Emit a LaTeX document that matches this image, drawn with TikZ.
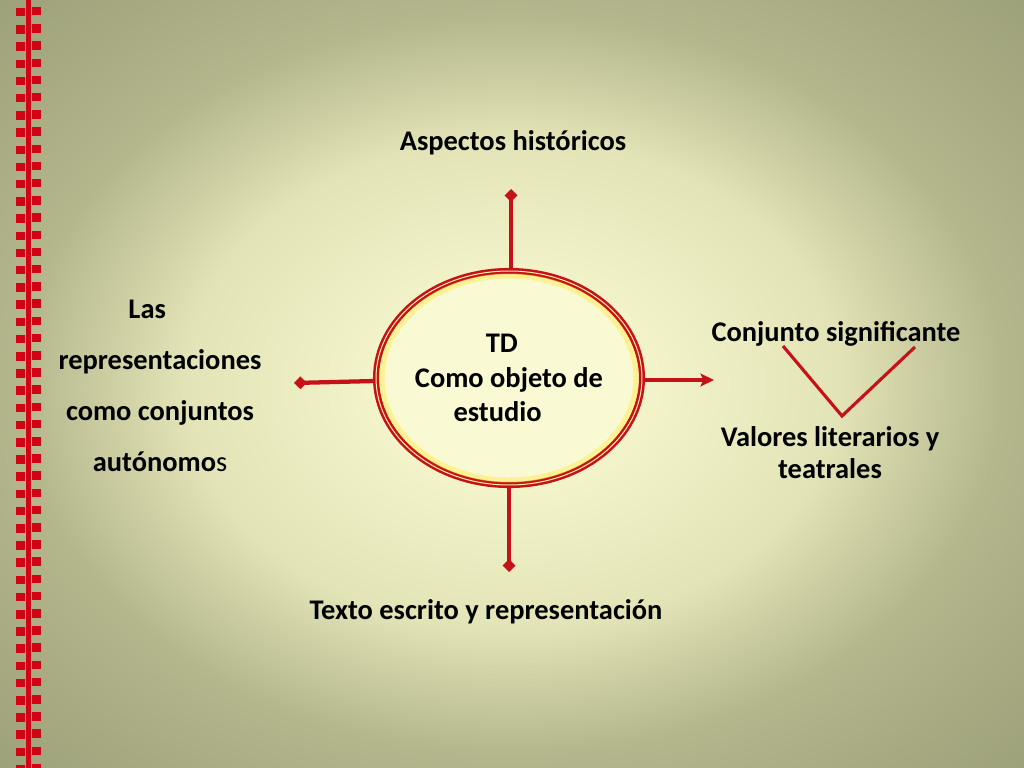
\documentclass[tikz,border=0pt]{standalone}
\usepackage{fontspec}
\setmainfont{Carlito}
\usetikzlibrary{arrows.meta, shapes.geometric}

\definecolor{slidered}{RGB}{196,18,24}
\definecolor{stripred}{RGB}{208,4,20}
\definecolor{ovalfill}{RGB}{249,249,212}
\definecolor{ovalring}{RGB}{255,240,160}
\definecolor{ovalglow}{RGB}{255,236,80}
\definecolor{bgcenter}{RGB}{247,247,210}
\definecolor{bginner}{RGB}{243,243,202}
\definecolor{bgmid}{RGB}{226,227,182}
\definecolor{bgouter}{RGB}{180,182,140}
\definecolor{bgedge}{RGB}{156,160,120}

\pgfdeclareradialshading{slidebg}{\pgfpoint{0bp}{0bp}}{color(0bp)=(bgcenter); color(7bp)=(bginner); color(16bp)=(bgmid); color(24bp)=(bgouter); color(36bp)=(bgedge)}

\def\px{0.703125pt}

\begin{document}
\begin{tikzpicture}[
  x=0.703125pt, y=-0.703125pt,
  label/.style = {font=\fontsize{20}{24}\selectfont\bfseries, align=center, inner sep=0pt},
  oval/.style = {ellipse, draw=slidered, line width=1.8pt, double=ovalring, double distance=0.7pt,
                 fill=ovalfill, minimum width=264*\px, minimum height=214*\px, inner sep=0pt},
  spoke/.style = {draw=slidered, line width=3pt},
  diamondtip/.style = {spoke, -{Turned Square[length=9pt, width=9pt]}},
  arrowtip/.style = {spoke, -{Stealth[length=9.5pt, width=9pt, inset=2pt]}},
  vline/.style = {draw=slidered, line width=2.2pt},
  square/.style = {fill=stripred}
]

% Background and frame
\useasboundingbox (0,0) rectangle (1024,768);
\shade[shading=slidebg] (0,0) rectangle (1024,768);

% Left strip
\fill[stripred] (26,0) rectangle (31,768);
\foreach \i in {0,...,44} {
  \fill[square] (16,{8+17.2*\i}) rectangle ++(8.5,8.5);
  \fill[square] (32,{7+17.2*\i}) rectangle ++(8.5,8.5);
}

% Central oval
\node[oval, label] (td) at (509,378) {TD\hspace*{0.5em}\\Como objeto de\\estudio\hspace*{0.8em}};
\draw[ovalglow, line width=3.5pt, opacity=0.5] (td.center) ellipse [x radius=127, y radius=102];

% Tips of the spokes
\coordinate (tip-top) at (511,189);
\coordinate (tip-left) at (294,383);
\coordinate (tip-right) at (714,380);
\coordinate (tip-bottom) at (509,572);

% Spokes
\draw[diamondtip] (td.north -| tip-top) -- (tip-top);
\draw[diamondtip] (td.west |- 0,381) -- (tip-left);
\draw[arrowtip] (td.east |- tip-right) -- (tip-right);
\draw[diamondtip] (td.south) -- (tip-bottom);

% Labels
\node[label] (hist) at (513,143) {Aspectos históricos};
\node[label, font=\fontsize{20}{36}\selectfont\bfseries] (repr) at (160,386)
  {Las\hspace*{0.9em}\\representaciones\\como conjuntos\\autónomo{\mdseries s}};
\node[label] (conj) at (836,334) {Conjunto significante};
\node[label, font=\fontsize{20}{22.5}\selectfont\bfseries] (valores) at (830,453)
  {Valores literarios y\\teatrales};
\node[label] (texto) at (486,612) {Texto escrito y representación};

% V between the two right labels
\coordinate (v-left) at (783,346);
\coordinate (v-bottom) at (842,416);
\coordinate (v-right) at (915,347);
\draw[vline] (v-left) -- (v-bottom) -- (v-right);

\end{tikzpicture}
\end{document}
